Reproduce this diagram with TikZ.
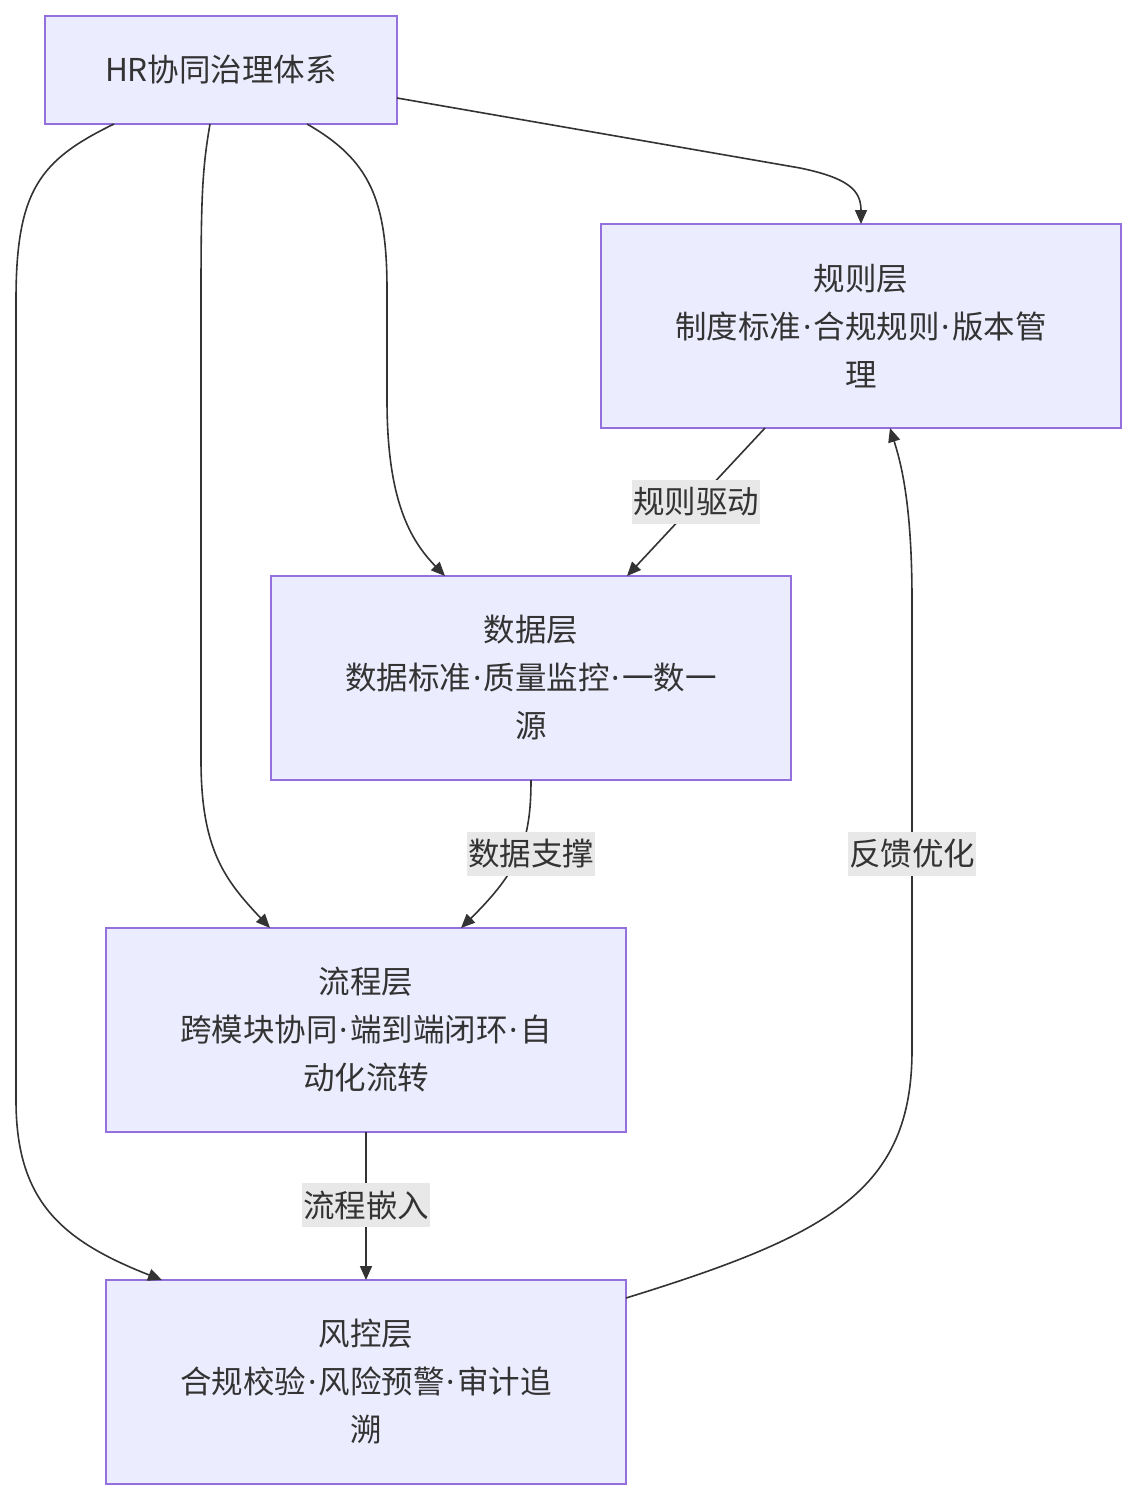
\documentclass[tikz,border=0pt]{standalone}
\usepackage{fontspec}
\setmainfont{Noto Sans CJK SC}
\newfontfamily\latinfont{Noto Sans}
\newcommand{\mdot}{\kern2pt{\latinfont ·}\kern2pt}
\usetikzlibrary{arrows.meta}
\definecolor{nodefill}{HTML}{ECECFF}
\definecolor{nodeline}{HTML}{9370DB}
\definecolor{ink}{HTML}{333333}
\definecolor{lblbg}{HTML}{E8E8E8}
\tikzset{
  box/.style={draw=nodeline, fill=nodefill, line width=1.5pt, align=center, text=ink,
    font=\fontsize{31.5}{48}\selectfont, inner sep=0pt},
  big/.style={box, minimum width=520pt, minimum height=204pt},
  edge/.style={draw=ink, line width=1.6pt, -{Triangle[length=14pt,width=12pt]}},
  lbl/.style={fill=lblbg, text=ink, font=\fontsize{31.5}{36}\selectfont, inner xsep=1pt, inner ysep=0pt, minimum height=44pt}
}
\begin{document}
\begin{tikzpicture}[x=1pt,y=-1pt]
\useasboundingbox (0,0) rectangle (1136,1500);
\node[box, minimum width=352pt, minimum height=108pt] (hr) at (221,70) {HR协同治理体系};
\node[big] (rule) at (861,326) {规则层\\制度标准\mdot 合规规则\mdot 版本管\\理};
\node[big] (data) at (531,678) {数据层\\数据标准\mdot 质量监控\mdot 一数一\\源};
\node[big] (flow) at (366,1030) {流程层\\跨模块协同\mdot 端到端闭环\mdot 自\\动化流转};
\node[big] (risk) at (366,1382) {风控层\\合规校验\mdot 风险预警\mdot 审计追\\溯};

\coordinate (a1) at (397,98);
\coordinate (a2) at (861,224);
\draw[edge] (a1) -- (800,168) .. controls (848,178) and (861,190) .. (a2);

\coordinate (b1) at (307,124);
\coordinate (b2) at (445,576);
\draw[edge] (b1) .. controls (370,160) and (387,200) .. (387,290) -- (387,400) .. controls (387,500) and (410,540) .. (b2);

\coordinate (c1) at (210,124);
\coordinate (c2) at (270,928);
\draw[edge] (c1) .. controls (202,170) and (201,200) .. (201,300) -- (201,760) .. controls (201,850) and (225,880) .. (c2);

\coordinate (d1) at (114,124);
\coordinate (d2) at (162,1280);
\draw[edge] (d1) .. controls (40,160) and (16,190) .. (16,300) -- (16,1100) .. controls (16,1200) and (60,1240) .. (d2);

\coordinate (e1) at (765,428);
\coordinate (e2) at (627,576);
\draw[edge] (e1) -- (e2);
\node[lbl] (le) at (696,502) {规则驱动};

\coordinate (f1) at (531,780);
\coordinate (f2) at (461,928);
\draw[edge] (f1) .. controls (531,840) and (520,870) .. (f2);
\node[lbl] (lf) at (531,854) {数据支撑};

\coordinate (g1) at (366,1132);
\coordinate (g2) at (366,1280);
\draw[edge] (g1) -- (g2);
\node[lbl] (lg) at (366,1205) {流程嵌入};

\coordinate (h1) at (626,1298);
\coordinate (h2) at (890,428);
\draw[edge] (h1) .. controls (830,1235) and (912,1190) .. (912,1050) -- (912,600) .. controls (912,500) and (900,460) .. (h2);
\node[lbl] (lh) at (912,854) {反馈优化};
\end{tikzpicture}
\end{document}
